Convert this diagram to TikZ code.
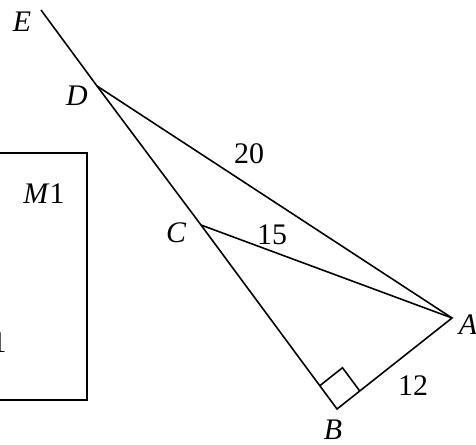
\documentclass[tikz,border=0pt]{standalone}
\usepackage{fontspec}
\setmainfont{Liberation Serif}
\usetikzlibrary{calc}
\begin{document}
\begin{tikzpicture}[x=0.02cm,y=-0.02cm]
	\tikzset{pt_label/.style={font=\fontsize{17}{20}\selectfont\itshape, inner sep=0pt}}
	\tikzset{len_label/.style={font=\fontsize{17}{20}\selectfont, inner sep=0pt}}
	\tikzset{seg/.style={line width=0.9pt}}
	\useasboundingbox (0,0) rectangle (476,444);
	\coordinate (E) at (41,10);
	\coordinate (D) at (97,86);
	\coordinate (C) at (201,225);
	\coordinate (B) at (337,409);
	\coordinate (A) at (452,318);
	\draw[seg] (E) -- (D) -- (C) -- (B) -- (A) -- (C);
	\draw[seg] (D) -- (A);
	\coordinate (Bd) at ($(B)!0.072!(D)$);
	\coordinate (Ba) at ($(B)!0.198!(A)$);
	\draw[seg] (Bd) -- ($(Bd)+(Ba)-(B)$) -- (Ba);
	\draw[seg] (-10,153) -- (87,153) -- (87,400) -- (-10,400);
	\node[pt_label] (lE) at (22,22) {E};
	\node[pt_label] (lD) at (77,96) {D};
	\node[pt_label] (lC) at (176,233) {C};
	\node[pt_label] (lB) at (333,430) {B};
	\node[pt_label] (lA) at (468,325) {A};
	\node[len_label] (l20) at (249,154) {20};
	\node[len_label] (l15) at (272,235) {15};
	\node[len_label] (l12) at (413,386) {12};
	\node[len_label] (lM1) at (44,194) {\textit{M}1};
	\node[len_label] (lM2) at (-1,343) {1};
\end{tikzpicture}
\end{document}
